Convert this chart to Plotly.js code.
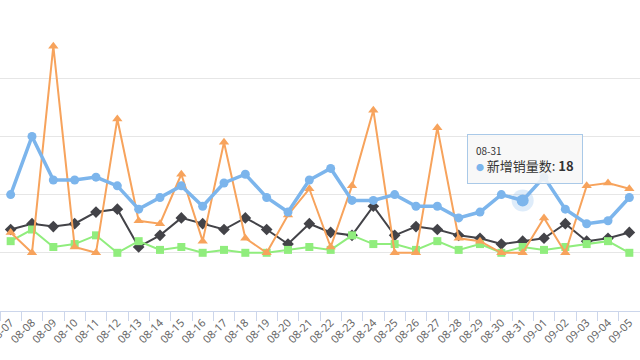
<!DOCTYPE html>
<html>
<head>
<meta charset="utf-8">
<script src="https://cdn.plot.ly/plotly-3.0.1.min.js"></script>
<style>html,body{margin:0;padding:0;background:#fff;}#chart{width:640px;height:360px;}</style>
</head>
<body>
<div id="chart"></div>
<script>
const categories = ["08-07","08-08","08-09","08-10","08-11","08-12","08-13","08-14","08-15","08-16","08-17","08-18","08-19","08-20","08-21","08-22","08-23","08-24","08-25","08-26","08-27","08-28","08-29","08-30","08-31","09-01","09-02","09-03","09-04","09-05"];
const blueSales = [20,40,25,25,26,23,15,19,23,16,24,27,19,14,25,29,18,18,20,16,16,12,14,20,18,26,15,10,11,19];
const orangeSeries = [7,0,71,2,0,46,11,10,27,4,38,5,0,13,22,2,23,49,0,0,43,5,4,0,0,12,0,23,24,22];
const darkSeries = [8,10,9,10,14,15,2,6,12,10,8,12,8,3,10,7,6,16,6,9,8,6,5,3,4,5,10,4,5,7];
const greenSeries = [4,8,2,3,6,0,4,1,2,0,1,0,0,1,2,1,6,3,3,1,4,1,3,0,2,1,2,3,4,0];
const blueName = "新增销量数";
const hoverIndex = 24;

const traces = [
  {x: categories, y: darkSeries, type: "scatter", mode: "lines+markers", name: "系列2",
   line: {color: "#434348", width: 2}, marker: {symbol: "diamond", size: 9, color: "#434348"}},
  {x: categories, y: greenSeries, type: "scatter", mode: "lines+markers", name: "系列3",
   line: {color: "#90ed7d", width: 2}, marker: {symbol: "square", size: 8, color: "#90ed7d"}},
  {x: categories, y: orangeSeries, type: "scatter", mode: "lines+markers", name: "系列4",
   line: {color: "#f7a35c", width: 2}, marker: {symbol: "triangle-up", size: 9, color: "#f7a35c"}},
  {x: categories, y: blueSales, type: "scatter", mode: "lines+markers", name: blueName,
   line: {color: "#7cb5ec", width: 3.5}, marker: {symbol: "circle", size: 9, color: "#7cb5ec"}},
  {x: [categories[hoverIndex]], y: [blueSales[hoverIndex]], type: "scatter", mode: "markers",
   marker: {symbol: "circle", size: 22, color: "rgba(124,181,236,0.25)"}},
  {x: [categories[hoverIndex]], y: [blueSales[hoverIndex]], type: "scatter", mode: "markers",
   marker: {symbol: "circle", size: 12, color: "#7cb5ec"}}
];

const layout = {
  width: 640, height: 360,
  margin: {l: 0, r: 0, t: 20, b: 49},
  paper_bgcolor: "#fff", plot_bgcolor: "#fff",
  showlegend: false, hovermode: false,
  font: {family: "'Noto Sans', 'Noto Sans CJK SC', sans-serif", color: "#666", size: 11},
  xaxis: {
    type: "category", range: [-0.5, 29.5], automargin: false,
    tickangle: -45, tickson: "boundaries", ticks: "outside", ticklen: 9, tickcolor: "#ccd6eb",
    showgrid: false, showline: true, linecolor: "#ccd6eb", linewidth: 1, zeroline: false,
    tickfont: {size: 11, color: "#666"}
  },
  yaxis: {
    range: [-20, 80], dtick: 20, automargin: false,
    showticklabels: false, showgrid: true, gridcolor: "#e6e6e6", zeroline: false, showline: false, ticks: ""
  },
  annotations: [{
    x: categories[hoverIndex], y: blueSales[hoverIndex], xref: "x", yref: "y",
    xanchor: "center", yanchor: "bottom", yshift: 16, xshift: 2, showarrow: false, align: "left",
    text: "<span style='font-size:10px;color:#333'>" + categories[hoverIndex] + "</span><br><span style='color:#7cb5ec;font-size:8px'>●</span> <span style='font-size:13px;color:#333'>" + blueName + ": <b>" + blueSales[hoverIndex] + "</b></span>",
    font: {family: "'Noto Sans CJK SC', 'Noto Sans', sans-serif", size: 12, color: "#333"},
    bgcolor: "rgba(247,247,247,0.88)", bordercolor: "#a9c9e8", borderwidth: 1, borderpad: 8
  }]
};

Plotly.newPlot("chart", traces, layout, {displayModeBar: false, staticPlot: true});
</script>
</body>
</html>
